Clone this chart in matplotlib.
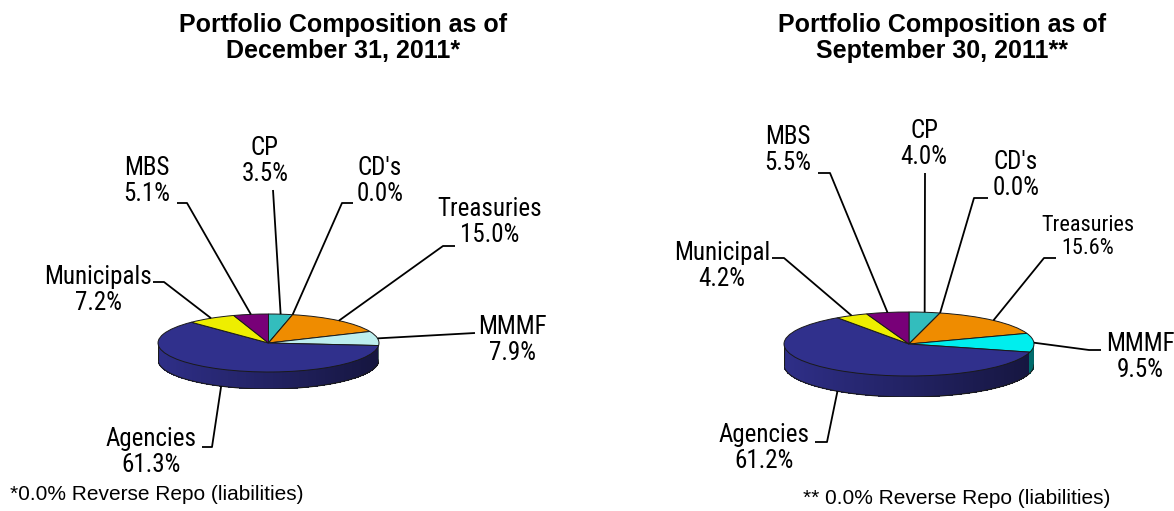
import numpy as np
import matplotlib.pyplot as plt
import matplotlib.colors as mcolors

W, H = 1174, 511

# data (clockwise from 12 o'clock)
categories_dec = ["CP", "CD's", "Treasuries", "MMMF", "Agencies", "Municipals", "MBS"]
values_dec = [3.5, 0.0, 15.0, 7.9, 61.3, 7.2, 5.1]
colors_dec = ['#33bdbd', '#5a5ac8', '#ef8c00', '#bdeeee', '#30308c', '#eeee00', '#780078']

categories_sep = ["CP", "CD's", "Treasuries", "MMMF", "Agencies", "Municipal", "MBS"]
values_sep = [4.0, 0.0, 15.6, 9.5, 61.2, 4.2, 5.5]
colors_sep = ['#33bdbd', '#5a5ac8', '#ef8c00', '#00eeee', '#30308c', '#eeee00', '#780078']

titles = ["Portfolio Composition as of\nDecember 31, 2011*",
          "Portfolio Composition as of\nSeptember 30, 2011**"]
notes = ["*0.0% Reverse Repo (liabilities)", "** 0.0% Reverse Repo (liabilities)"]

LABEL_FONT = ['Roboto Condensed', 'PT Sans Narrow', 'Liberation Sans', 'DejaVu Sans']
TITLE_FONT = ['Liberation Sans', 'DejaVu Sans']

# layout in pixels (y measured from the top)
charts = [
    dict(cats=categories_dec, vals=values_dec, cols=colors_dec, title=titles[0], note=notes[0],
         cx=268.5, cy=343, rx=110.5, ry=29, depth=17, title_x=343, note_xy=(10, 495), note_ha='left',
         text_pos=[(265, 161), (380, 181), (490, 222), (512, 340), (151, 452), (98, 290), (147, 181)],
         legs=[[(273, 190)], [(342, 203), (353, 203)], [(443, 246), (455, 246)], [(475, 333)],
               [(212, 447), (202, 447)], [(164, 282), (153, 282)], [(187, 203), (177, 203)]],
         sizes=[18, 18, 18, 18, 18, 18, 18]),
    dict(cats=categories_sep, vals=values_sep, cols=colors_sep, title=titles[1], note=notes[1],
         cx=909, cy=344, rx=125, ry=32, depth=21, title_x=942, note_xy=(957, 498), note_ha='center',
         text_pos=[(924, 144), (1016, 175), (1088, 237), (1140, 357), (764, 448), (722, 266), (788, 150)],
         legs=[[(925, 173)], [(974, 198), (988, 198)], [(1044, 258), (1056, 258)], [(1089, 350), (1101, 350)],
               [(827, 442), (815, 442)], [(784, 258), (772, 258)], [(830, 173), (818, 173)]],
         sizes=[18, 18, 16, 18, 18, 18, 18]),
]

fig = plt.figure(figsize=(W / 100, H / 100), dpi=100)
fig.patch.set_facecolor('white')

for c in charts:
    cx, cy, rx, ry, depth = c['cx'], c['cy'], c['rx'], c['ry'], c['depth']
    d = depth / ry
    axp = fig.add_axes([(cx - rx) / W, (H - (cy + ry + depth)) / H, 2 * rx / W, (2 * ry + depth) / H])
    wedges, _ = axp.pie(c['vals'], colors=c['cols'], startangle=90, counterclock=False, radius=1,
                        wedgeprops=dict(edgecolor='#1a1a1a', linewidth=0.7, zorder=3))
    axp.set_aspect('auto')
    axp.set_xlim(-1, 1)
    axp.set_ylim(-1 - d, 1)
    axp.axis('off')

    # side wall of the front half, shaded left to right
    angles = np.linspace(-180, 0, 241)
    for a1, a2 in zip(angles[:-1], angles[1:]):
        am = (a1 + a2) / 2
        for w in wedges:
            if (am - w.theta1) % 360 < (w.theta2 - w.theta1):
                base = np.array(mcolors.to_rgb(w.get_facecolor()))
                break
        f = 0.97 - 0.52 * (np.cos(np.radians(am)) + 1) / 2
        t = np.radians([a1 - 0.4, a2 + 0.4])
        xs = [np.cos(t[0]), np.cos(t[1]), np.cos(t[1]), np.cos(t[0])]
        ys = [np.sin(t[0]), np.sin(t[1]), np.sin(t[1]) - d, np.sin(t[0]) - d]
        axp.fill(xs, ys, color=base * f, lw=0, antialiased=False, zorder=1)
    tt = np.radians(angles)
    axp.plot(np.cos(tt), np.sin(tt) - d, color='#1a1a1a', lw=0.8, zorder=2)
    axp.plot([-1, -1], [0, -d], color='#1a1a1a', lw=0.8, zorder=2)
    axp.plot([1, 1], [0, -d], color='#1a1a1a', lw=0.8, zorder=2)
    c['wedges'] = wedges
    c['axp'] = axp
    c['d'] = d

# overlay in pixel coordinates for labels and leader lines
ax = fig.add_axes([0, 0, 1, 1])
ax.set_xlim(0, W)
ax.set_ylim(H, 0)
ax.axis('off')
to_px = ax.transData.inverted()

for c in charts:
    ax.text(c['title_x'], 38, c['title'], ha='center', va='center', fontsize=18, fontweight='bold',
            family=TITLE_FONT, linespacing=1.15)
    ax.text(c['note_xy'][0], c['note_xy'][1], c['note'], ha=c['note_ha'], va='center', fontsize=15,
            family=TITLE_FONT)
    for w, cat, v, pos, leg, fs in zip(c['wedges'], c['cats'], c['vals'], c['text_pos'], c['legs'], c['sizes']):
        mid = np.radians((w.theta1 + w.theta2) / 2)
        px, py = np.cos(mid), np.sin(mid)
        if py < 0:
            py -= c['d']
        anchor = to_px.transform(c['axp'].transData.transform((px, py)))
        pts = [tuple(anchor)] + leg
        ax.plot([p[0] for p in pts], [p[1] for p in pts], color='black', lw=1.3, solid_capstyle='butt')
        ax.text(pos[0], pos[1], f"{cat}\n{v:.1f}%", ha='center', va='center', fontsize=fs,
                family=LABEL_FONT, linespacing=1.1)

fig.savefig('out.png', dpi=100)
